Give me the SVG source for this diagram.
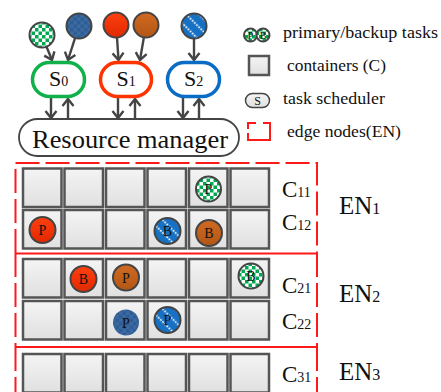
<svg xmlns="http://www.w3.org/2000/svg" width="441" height="392" viewBox="0 0 441 392">
  <defs>
    <style>
      .txt { font-family: "Liberation Serif", "Times New Roman", serif; fill: #111; }
      .task { stroke: #444; stroke-width: 2; }
      .box { fill: url(#boxFill); stroke: #555; stroke-width: 2.5; }
      .flow { stroke: #444; stroke-width: 2.4; fill: none; marker-end: url(#head); }
      .sched { fill: #fff; stroke-width: 3.5; }
      .en { fill: none; stroke: #ff1a1a; stroke-width: 2; stroke-dasharray: 24 6; }
      .enSolid { fill: none; stroke: #ff1a1a; stroke-width: 2; }
    </style>
    <marker id="head" viewBox="-9 -8 11 16" refX="0" refY="0" markerWidth="11" markerHeight="16" markerUnits="userSpaceOnUse" orient="auto">
      <path d="M-7,-5.5 L0,0 L-7,5.5" fill="none" stroke="#444" stroke-width="2.4"/>
    </marker>
    <linearGradient id="boxFill" x1="0" y1="0" x2="0" y2="1">
      <stop offset="0" stop-color="#f4f4f4"/>
      <stop offset="1" stop-color="#e0e0e0"/>
    </linearGradient>
    <linearGradient id="redFill" x1="0" y1="0" x2="0" y2="1">
      <stop offset="0" stop-color="#ff4010"/>
      <stop offset="1" stop-color="#e02800"/>
    </linearGradient>
    <linearGradient id="orangeFill" x1="0" y1="0" x2="0" y2="1">
      <stop offset="0" stop-color="#d06a22"/>
      <stop offset="1" stop-color="#b35614"/>
    </linearGradient>
    <pattern id="greenCheck" width="7" height="7" patternUnits="userSpaceOnUse">
      <rect width="7" height="7" fill="#fff"/>
      <rect width="3.5" height="3.5" fill="#00a84f"/>
      <rect x="3.5" y="3.5" width="3.5" height="3.5" fill="#00a84f"/>
    </pattern>
    <pattern id="blueCheck" width="7" height="7" patternUnits="userSpaceOnUse">
      <rect width="7" height="7" fill="#3a6aa3"/>
      <rect width="3.5" height="3.5" fill="#2f5c91"/>
      <rect x="3.5" y="3.5" width="3.5" height="3.5" fill="#2f5c91"/>
    </pattern>
    <pattern id="blueStripe" width="9" height="9" patternUnits="userSpaceOnUse" patternTransform="rotate(-45)">
      <rect width="9" height="9" fill="#1670c4"/>
      <line x1="4.5" y1="0" x2="4.5" y2="9" stroke="#eef5ff" stroke-width="1.6" stroke-dasharray="2 1"/>
    </pattern>
  </defs>

  <!-- incoming tasks -->
  <g id="tasks-in">
    <circle class="task" cx="42" cy="35" r="12.5" fill="url(#greenCheck)"/>
    <circle class="task" cx="79" cy="26" r="12.5" fill="url(#blueCheck)"/>
    <circle class="task" cx="116" cy="25" r="12.5" fill="url(#redFill)"/>
    <circle class="task" cx="146" cy="25" r="12.5" fill="url(#orangeFill)"/>
    <circle class="task" cx="194" cy="26" r="12.5" fill="url(#blueStripe)"/>
  </g>

  <!-- connectors -->
  <g id="connectors">
    <line class="flow" x1="46.5" y1="46.7" x2="52" y2="60"/>
    <line class="flow" x1="75.1" y1="37.9" x2="68" y2="60"/>
    <line class="flow" x1="117" y1="37.5" x2="118.5" y2="60"/>
    <line class="flow" x1="143.9" y1="37.3" x2="140" y2="60"/>
    <line class="flow" x1="194" y1="38.5" x2="194" y2="60"/>

    <line class="flow" x1="51" y1="98" x2="51" y2="118"/>
    <line class="flow" x1="68" y1="119" x2="68" y2="99"/>
    <line class="flow" x1="118" y1="98" x2="118" y2="118"/>
    <line class="flow" x1="135" y1="119" x2="135" y2="99"/>
    <line class="flow" x1="183" y1="98" x2="183" y2="118"/>
    <line class="flow" x1="199" y1="119" x2="199" y2="99"/>
  </g>

  <!-- schedulers -->
  <g id="s0">
    <rect class="sched" x="32.5" y="62.5" width="52" height="34" rx="17" stroke="#10b04a"/>
    <text class="txt" x="58.5" y="86" text-anchor="middle" font-size="22">S<tspan font-size="14">0</tspan></text>
  </g>
  <g id="s1">
    <rect class="sched" x="100.5" y="62.5" width="51" height="34" rx="17" stroke="#ff3300"/>
    <text class="txt" x="126" y="86" text-anchor="middle" font-size="22">S<tspan font-size="14">1</tspan></text>
  </g>
  <g id="s2">
    <rect class="sched" x="167.5" y="62.5" width="52" height="34" rx="17" stroke="#0a6cc4"/>
    <text class="txt" x="193.5" y="86" text-anchor="middle" font-size="22">S<tspan font-size="14">2</tspan></text>
  </g>

  <!-- resource manager -->
  <g id="resource-manager">
    <rect x="19" y="119" width="220" height="37" rx="18.5" fill="#fff" stroke="#444" stroke-width="1.8"/>
    <text class="txt" x="130" y="148" text-anchor="middle" font-size="26" textLength="196" lengthAdjust="spacingAndGlyphs">Resource manager</text>
  </g>

  <!-- legend -->
  <g id="legend">
    <circle class="task" cx="250.5" cy="35" r="6.5" fill="url(#greenCheck)" stroke-width="1.5"/>
    <circle class="task" cx="263" cy="35" r="6.5" fill="url(#greenCheck)" stroke-width="1.5"/>
    <text class="txt" x="250.5" y="39" text-anchor="middle" font-size="10">P</text>
    <text class="txt" x="263" y="39" text-anchor="middle" font-size="10">B</text>
    <text class="txt" x="283" y="38" font-size="17" textLength="155" lengthAdjust="spacingAndGlyphs">primary/backup tasks</text>

    <rect class="box" x="249" y="56" width="20" height="19" stroke-width="2"/>
    <text class="txt" x="287" y="71" font-size="17" textLength="99" lengthAdjust="spacingAndGlyphs">containers (C)</text>

    <rect x="245.5" y="93.5" width="24" height="14" rx="7" fill="url(#boxFill)" stroke="#444" stroke-width="1.5"/>
    <text class="txt" x="257.5" y="105" text-anchor="middle" font-size="12">S</text>
    <text class="txt" x="283" y="104" font-size="17" textLength="102" lengthAdjust="spacingAndGlyphs">task scheduler</text>

    <path d="M248,129 V123 H256 M263,123 H270 V140 H248 V133" fill="none" stroke="#ff1a1a" stroke-width="2"/>
    <text class="txt" x="287" y="137" font-size="17" textLength="114" lengthAdjust="spacingAndGlyphs">edge nodes(EN)</text>
  </g>

  <!-- edge node EN1 -->
  <g id="en1">
    <path class="en" d="M15.5,253 V163 H317 V253"/>
    <line class="enSolid" x1="15.5" y1="253.5" x2="318" y2="253.5"/>
    <g id="c11">
      <rect class="box" x="23" y="168.5" width="38.5" height="38.5"/>
      <rect class="box" x="64.5" y="168.5" width="38.5" height="38.5"/>
      <rect class="box" x="106" y="168.5" width="38.5" height="38.5"/>
      <rect class="box" x="147.5" y="168.5" width="38.5" height="38.5"/>
      <rect class="box" x="189" y="168.5" width="38.5" height="38.5"/>
      <rect class="box" x="230.5" y="168.5" width="38.5" height="38.5"/>
      <circle class="task" cx="208.5" cy="189" r="12.5" fill="url(#greenCheck)"/>
      <text class="txt" x="208.5" y="194" text-anchor="middle" font-size="14">P</text>
      <text class="txt" x="282" y="197" font-size="23">C<tspan font-size="14">11</tspan></text>
    </g>
    <g id="c12">
      <rect class="box" x="23" y="210" width="38.5" height="38.5"/>
      <rect class="box" x="64.5" y="210" width="38.5" height="38.5"/>
      <rect class="box" x="106" y="210" width="38.5" height="38.5"/>
      <rect class="box" x="147.5" y="210" width="38.5" height="38.5"/>
      <rect class="box" x="189" y="210" width="38.5" height="38.5"/>
      <rect class="box" x="230.5" y="210" width="38.5" height="38.5"/>
      <circle class="task" cx="42.5" cy="230" r="13" fill="url(#redFill)"/>
      <text class="txt" x="42.5" y="235" text-anchor="middle" font-size="14">P</text>
      <circle class="task" cx="167.5" cy="231" r="13" fill="url(#blueStripe)"/>
      <text class="txt" x="167.5" y="236" text-anchor="middle" font-size="14">B</text>
      <circle class="task" cx="209" cy="233" r="13" fill="url(#orangeFill)"/>
      <text class="txt" x="209" y="238" text-anchor="middle" font-size="14">B</text>
      <text class="txt" x="282" y="230" font-size="23">C<tspan font-size="14">12</tspan></text>
    </g>
    <text class="txt" x="339" y="214" font-size="25">EN<tspan font-size="16">1</tspan></text>
  </g>

  <!-- edge node EN2 -->
  <g id="en2">
    <path class="en" d="M15.5,253 V347"/>
    <path class="en" d="M317,253 V347"/>
    <line class="enSolid" x1="15.5" y1="347" x2="318" y2="347"/>
    <g id="c21">
      <rect class="box" x="23" y="259" width="38.5" height="38.5"/>
      <rect class="box" x="64.5" y="259" width="38.5" height="38.5"/>
      <rect class="box" x="106" y="259" width="38.5" height="38.5"/>
      <rect class="box" x="147.5" y="259" width="38.5" height="38.5"/>
      <rect class="box" x="189" y="259" width="38.5" height="38.5"/>
      <rect class="box" x="230.5" y="259" width="38.5" height="38.5"/>
      <circle class="task" cx="83.5" cy="279" r="13" fill="url(#redFill)"/>
      <text class="txt" x="83.5" y="284" text-anchor="middle" font-size="14">B</text>
      <circle class="task" cx="126" cy="277.5" r="13" fill="url(#orangeFill)"/>
      <text class="txt" x="126" y="282.5" text-anchor="middle" font-size="14">P</text>
      <circle class="task" cx="251" cy="276" r="12.5" fill="url(#greenCheck)"/>
      <text class="txt" x="251" y="281" text-anchor="middle" font-size="14">B</text>
      <text class="txt" x="282" y="293" font-size="23">C<tspan font-size="14">21</tspan></text>
    </g>
    <g id="c22">
      <rect class="box" x="23" y="301" width="38.5" height="38.5"/>
      <rect class="box" x="64.5" y="301" width="38.5" height="38.5"/>
      <rect class="box" x="106" y="301" width="38.5" height="38.5"/>
      <rect class="box" x="147.5" y="301" width="38.5" height="38.5"/>
      <rect class="box" x="189" y="301" width="38.5" height="38.5"/>
      <rect class="box" x="230.5" y="301" width="38.5" height="38.5"/>
      <circle cx="126" cy="322.5" r="13" fill="url(#blueCheck)"/>
      <text class="txt" x="126" y="327.5" text-anchor="middle" font-size="14">P</text>
      <circle class="task" cx="167.5" cy="320" r="13" fill="url(#blueStripe)"/>
      <text class="txt" x="167.5" y="325" text-anchor="middle" font-size="14">P</text>
      <text class="txt" x="282" y="329" font-size="23">C<tspan font-size="14">22</tspan></text>
    </g>
    <text class="txt" x="339" y="302" font-size="25">EN<tspan font-size="16">2</tspan></text>
  </g>

  <!-- edge node EN3 -->
  <g id="en3">
    <path class="en" d="M15.5,347 V400"/>
    <path class="en" d="M317,347 V400"/>
    <g id="c31">
      <rect class="box" x="23" y="354" width="38.5" height="38.5"/>
      <rect class="box" x="64.5" y="354" width="38.5" height="38.5"/>
      <rect class="box" x="106" y="354" width="38.5" height="38.5"/>
      <rect class="box" x="147.5" y="354" width="38.5" height="38.5"/>
      <rect class="box" x="189" y="354" width="38.5" height="38.5"/>
      <rect class="box" x="230.5" y="354" width="38.5" height="38.5"/>
      <text class="txt" x="282" y="382" font-size="23">C<tspan font-size="14">31</tspan></text>
    </g>
    <text class="txt" x="339" y="380" font-size="25">EN<tspan font-size="16">3</tspan></text>
  </g>
</svg>
